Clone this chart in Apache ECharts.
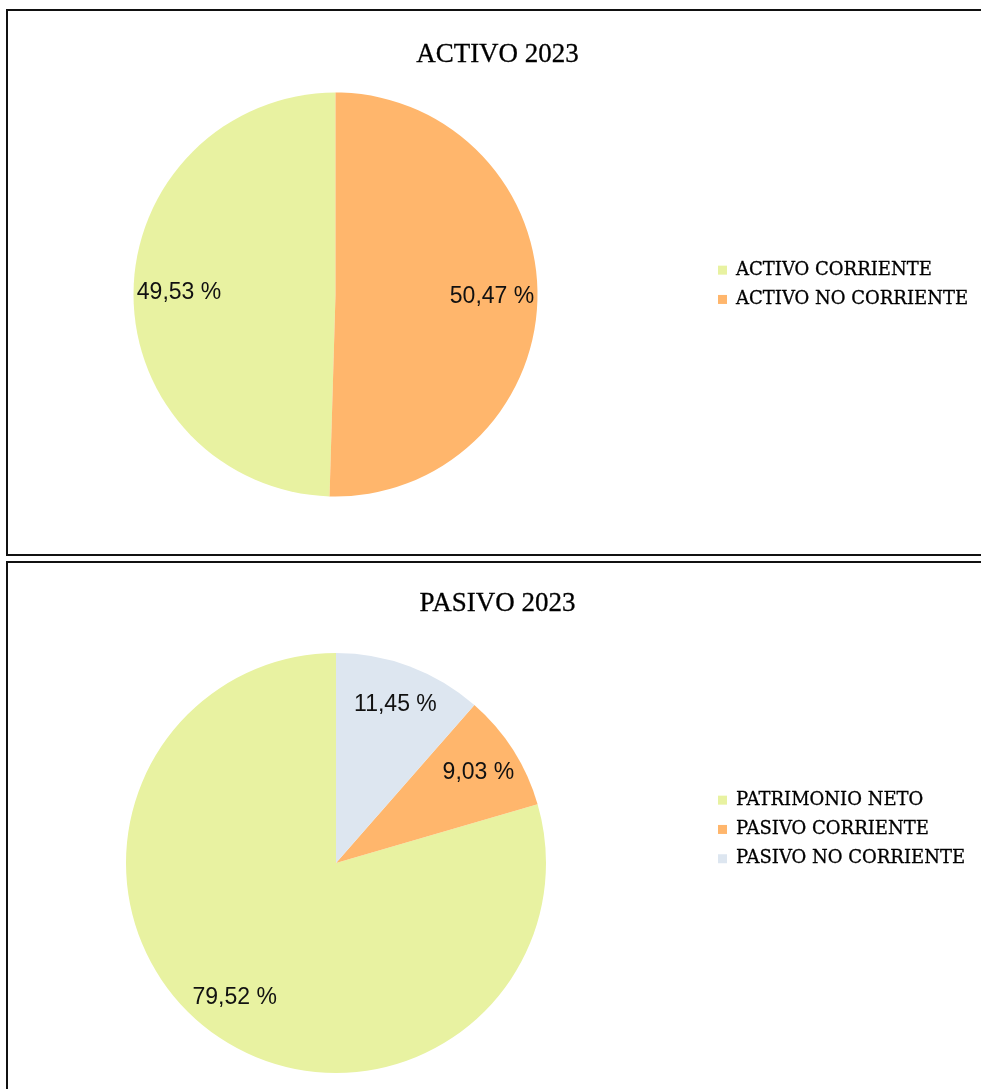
<!DOCTYPE html>
<html>
<head>
<meta charset="utf-8">
<script src="https://cdn.jsdelivr.net/npm/echarts@6/dist/echarts.min.js"></script>
<style>
  html, body { margin: 0; padding: 0; background: #fff; overflow: hidden; }
  .box { position: absolute; left: 6px; width: 979px; border: 2px solid #111; background: #fff; }
  #activo { top: 9px; height: 543px; }
  #pasivo { top: 561px; height: 540px; }
</style>
</head>
<body>
<div id="activo" class="box"></div>
<div id="pasivo" class="box"></div>
<script>
// datos
var activoNombres = ["ACTIVO CORRIENTE", "ACTIVO NO CORRIENTE"];
var activoValores = [49.53, 50.47];
var pasivoNombres = ["PATRIMONIO NETO", "PASIVO CORRIENTE", "PASIVO NO CORRIENTE"];
var pasivoValores = [79.52, 9.03, 11.45];
var colores = ["#e8f2a1", "#ffb66c", "#dde6f0"];

function porcentaje(v) {
  return v.toFixed(2).replace(".", ",") + " %";
}

function armar(titulo, nombres, valores, centro, radio, tituloTop, legendTop, labelRatio) {
  var datos = nombres.map(function (n, i) { return { name: n, value: valores[i] }; });
  return {
    animation: false,
    color: colores,
    title: {
      text: titulo,
      left: "center",
      top: tituloTop,
      textStyle: {
        fontFamily: "Liberation Serif", fontSize: 27, fontWeight: "normal", color: "#000",
        textBorderColor: "#000", textBorderWidth: 0.3
      }
    },
    legend: {
      orient: "vertical",
      left: 710,
      top: legendTop,
      padding: 0,
      icon: "rect",
      itemWidth: 9,
      itemHeight: 9,
      itemGap: 11,
      selectedMode: false,
      data: nombres,
      textStyle: {
        fontFamily: "DejaVu Serif", fontSize: 18, color: "#000", padding: [0, 0, 0, 4],
        textBorderColor: "#000", textBorderWidth: 0.3
      }
    },
    series: [
      {
        type: "pie",
        center: centro,
        radius: radio,
        startAngle: 90,
        clockwise: false,
        silent: true,
        label: { show: false },
        labelLine: { show: false },
        data: datos
      },
      {
        // serie auxiliar sólo para ubicar las etiquetas
        type: "pie",
        center: centro,
        radius: radio * 2 * labelRatio,
        startAngle: 90,
        clockwise: false,
        silent: true,
        itemStyle: { color: "rgba(0,0,0,0)" },
        label: {
          show: true,
          position: "inside",
          fontFamily: "Liberation Sans",
          fontSize: 23,
          color: "#111",
          formatter: function (p) { return porcentaje(p.value); }
        },
        labelLine: { show: false },
        data: datos
      }
    ]
  };
}

var chartActivo = echarts.init(document.getElementById("activo"));
chartActivo.setOption(armar("ACTIVO 2023", activoNombres, activoValores, [327.5, 283.5], 202, 25, 250, 0.76));

var chartPasivo = echarts.init(document.getElementById("pasivo"));
chartPasivo.setOption(armar("PASIVO 2023", pasivoNombres, pasivoValores, [328, 300], 210, 22, 228, 0.79));
</script>
</body>
</html>
